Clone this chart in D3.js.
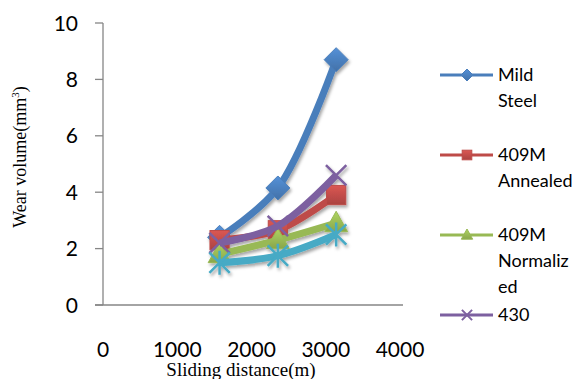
<!DOCTYPE html>
<html>
<head>
<meta charset="utf-8">
<script src="https://cdn.jsdelivr.net/npm/d3@7"></script>
<style>
  body { margin: 0; background: #fff; }
  svg text { font-family: Lato, "Open Sans", sans-serif; }
</style>
</head>
<body>
<div id="chart"></div>
<script>
// data
const distances = [1570, 2355, 3140];
const seriesNames = ["Mild Steel", "409M Annealed", "409M Normalized", "430", "Series5"];
const mildSteel = [2.4, 4.15, 8.7];
const annealed = [2.3, 2.65, 3.9];
const normalized = [1.8, 2.3, 2.9];
const ss430 = [2.2, 2.8, 4.6];
const series5 = [1.5, 1.75, 2.5];
const xTicks = [0, 1000, 2000, 3000, 4000];
const yTicks = [0, 2, 4, 6, 8, 10];
const legendLabels = [["Mild", "Steel"], ["409M", "Annealed"], ["409M", "Normaliz", "ed"], ["430"]];

const colors = ["#4A7EBB", "#BE4B48", "#98B954", "#7D60A0", "#46AAC5"];
const markerKinds = ["diamond", "square", "triangle", "x", "star"];
const allValues = [mildSteel, annealed, normalized, ss430, series5];

const W = 581, H = 379;
const svg = d3.select("#chart").append("svg")
  .attr("width", W).attr("height", H);

const defs = svg.append("defs");
const shadow = defs.append("filter").attr("id", "shadow")
  .attr("x", "-30%").attr("y", "-30%").attr("width", "160%").attr("height", "160%");
shadow.append("feDropShadow")
  .attr("dx", 1.5).attr("dy", 2.5).attr("stdDeviation", 1.8)
  .attr("flood-color", "#000").attr("flood-opacity", 0.35);

colors.forEach((c, i) => {
  const g = defs.append("linearGradient").attr("id", "grad" + i)
    .attr("x1", 0).attr("y1", 0).attr("x2", 0).attr("y2", 1);
  g.append("stop").attr("offset", "0%").attr("stop-color", d3.color(c).brighter(0.4));
  g.append("stop").attr("offset", "100%").attr("stop-color", d3.color(c).darker(0.3));
});

const x = d3.scaleLinear().domain([0, 4000]).range([103, 400]);
const y = d3.scaleLinear().domain([0, 10]).range([305, 23]);

// axes
const axisColor = "#868686";
svg.append("line")
  .attr("x1", x(0)).attr("x2", x(0)).attr("y1", y(0)).attr("y2", y(10))
  .attr("stroke", axisColor).attr("stroke-width", 1.3);
svg.append("line")
  .attr("x1", 95).attr("x2", 403).attr("y1", y(0)).attr("y2", y(0))
  .attr("stroke", axisColor).attr("stroke-width", 1.3);

svg.selectAll(".ytick").data(yTicks).enter().append("line")
  .attr("x1", 95).attr("x2", x(0))
  .attr("y1", d => y(d)).attr("y2", d => y(d))
  .attr("stroke", axisColor).attr("stroke-width", 1.3);

svg.selectAll(".ylab").data(yTicks).enter().append("text")
  .attr("x", 78).attr("y", d => y(d)).attr("dy", "0.36em")
  .attr("text-anchor", "end").attr("font-size", 21).attr("fill", "#000")
  .text(d => d);

svg.selectAll(".xlab").data(xTicks).enter().append("text")
  .attr("x", d => x(d)).attr("y", 357)
  .attr("text-anchor", "middle").attr("font-size", 21).attr("fill", "#000")
  .text(d => d);

// axis titles
svg.append("text")
  .attr("transform", "translate(26,157) rotate(-90)")
  .attr("text-anchor", "middle")
  .style("font-family", "'Liberation Serif', 'DejaVu Serif', serif")
  .attr("font-size", 18)
  .html('Wear volume(mm<tspan dy="-7" font-size="11">3</tspan><tspan dy="7">)</tspan>');

svg.append("text")
  .attr("x", 241).attr("y", 376)
  .attr("text-anchor", "middle")
  .style("font-family", "'Liberation Serif', 'DejaVu Serif', serif")
  .attr("font-size", 19)
  .text("Sliding distance(m)");

// marker drawing
function drawMarker(g, kind, cx, cy, s, i) {
  const c = colors[i];
  if (kind === "diamond") {
    g.append("path").attr("d", `M${cx},${cy - s}L${cx + s},${cy}L${cx},${cy + s}L${cx - s},${cy}Z`)
      .attr("fill", `url(#grad${i})`).attr("stroke", c).attr("stroke-width", 1);
  } else if (kind === "square") {
    g.append("rect").attr("x", cx - s * 0.8).attr("y", cy - s * 0.8)
      .attr("width", s * 1.6).attr("height", s * 1.6)
      .attr("fill", `url(#grad${i})`).attr("stroke", c).attr("stroke-width", 1);
  } else if (kind === "triangle") {
    g.append("path").attr("d", `M${cx},${cy - s}L${cx + s * 0.95},${cy + s * 0.7}L${cx - s * 0.95},${cy + s * 0.7}Z`)
      .attr("fill", `url(#grad${i})`).attr("stroke", c).attr("stroke-width", 1);
  } else if (kind === "x") {
    const a = s * 0.85;
    g.append("path").attr("d", `M${cx - a},${cy - a}L${cx + a},${cy + a}M${cx - a},${cy + a}L${cx + a},${cy - a}`)
      .attr("stroke", c).attr("stroke-width", s > 8 ? 2.5 : 2).attr("fill", "none");
  } else if (kind === "star") {
    const a = s * 0.85;
    g.append("path").attr("d", `M${cx - a},${cy - a}L${cx + a},${cy + a}M${cx - a},${cy + a}L${cx + a},${cy - a}M${cx},${cy - s}L${cx},${cy + s}`)
      .attr("stroke", c).attr("stroke-width", 2.5).attr("fill", "none");
  }
}

// series
const line = d3.line()
  .x((d, k) => x(distances[k]))
  .y(d => y(d))
  .curve(d3.curveCatmullRom.alpha(0.5));

const plot = svg.append("g").attr("filter", "url(#shadow)");
allValues.forEach((vals, i) => {
  const g = plot.append("g");
  g.append("path").datum(vals)
    .attr("d", line)
    .attr("fill", "none")
    .attr("stroke", colors[i])
    .attr("stroke-width", 7)
    .attr("stroke-linejoin", "round");
  vals.forEach((v, k) => drawMarker(g, markerKinds[i], x(distances[k]), y(v), 12, i));
});

// legend
const legendY = [75, 155, 235, 315];
const legend = svg.append("g");
legendLabels.forEach((lines, i) => {
  const ly = legendY[i];
  legend.append("line")
    .attr("x1", 440).attr("x2", 493).attr("y1", ly).attr("y2", ly)
    .attr("stroke", colors[i]).attr("stroke-width", 3);
  drawMarker(legend, markerKinds[i], 467, ly, 6, i);
  lines.forEach((t, j) => {
    legend.append("text")
      .attr("x", 498).attr("y", ly + j * 26).attr("dy", "0.36em")
      .attr("font-size", 18).attr("fill", "#000")
      .text(t);
  });
});
</script>
</body>
</html>
